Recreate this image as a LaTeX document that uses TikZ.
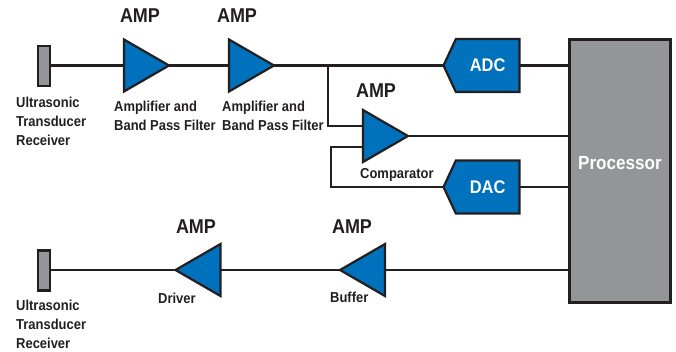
\documentclass[tikz,border=0pt]{standalone}
\usepackage{fontspec}
\setmainfont[FakeStretch=0.9]{Liberation Sans}
\usetikzlibrary{calc}
\usetikzlibrary{arrows.meta, shapes.geometric, shapes.symbols}
\definecolor{ampblue}{HTML}{0071BC}
\definecolor{bodygray}{HTML}{939598}
\definecolor{inkline}{HTML}{231F20}
\tikzset{
    wire/.style={draw=inkline, line width=2.2pt},
    amp/.style={isosceles triangle, isosceles triangle stretches, draw=inkline, fill=ampblue,
        line width=2.2pt, minimum width=52pt, minimum height=45pt, inner sep=0pt, outer sep=0pt},
    conv/.style={signal, signal to=west, signal pointer angle=130, draw=inkline, fill=ampblue,
        line width=2.2pt, minimum width=76pt, minimum height=53pt, inner sep=0pt, outer sep=0pt,
        text=white, font=\fontsize{18.3}{18.3}\selectfont\bfseries},
    probe/.style={draw=inkline, fill=bodygray, line width=2.2pt, minimum width=12pt,
        minimum height=40pt, inner sep=0pt, outer sep=0pt},
    amptag/.style={font=\fontsize{20}{20}\selectfont\bfseries, text=inkline, inner sep=0pt},
    tag/.style={font=\fontsize{14.4}{19}\selectfont\bfseries, text=inkline, align=left, inner sep=0pt},
    smalltag/.style={font=\fontsize{14.4}{14.4}\selectfont\bfseries, text=inkline, inner sep=0pt}
}

\begin{document}
\begin{tikzpicture}[x=1pt, y=-1pt]
    \useasboundingbox (0,0) rectangle (676,351);

    % -------------------------------------------------------
    % 1. Receive chain
    % -------------------------------------------------------
    \node[probe] (rxprobe) at (44,66) {};
    \node[amp, anchor=lower side] (amp1) at (124,65.5) {};
    \node[amp, anchor=lower side] (amp2) at (229,65.5) {};
    \node[amp, anchor=lower side] (cmp) at (363,136) {};

    % Converters and processor
    \node[conv, anchor=east] (adc) at (519.5,65.5) {ADC\hspace{9pt}};
    \node[conv, anchor=east] (dac) at (519.5,187) {DAC\hspace{12pt}};
    \node[draw=inkline, fill=bodygray, line width=2.6pt, minimum width=101pt, minimum height=263pt,
        inner sep=0pt, outer sep=0pt] (cpu) at (620,171) {};
    \node[text=white, font=\fontsize{19}{19}\selectfont\bfseries, inner sep=0pt] (cpulabel) at (620,163) {Processor};

    % -------------------------------------------------------
    % 2. Transmit chain
    % -------------------------------------------------------
    \node[probe] (txprobe) at (44,270.5) {};
    \node[amp, shape border rotate=180, anchor=lower side] (driver) at (220.5,270) {};
    \node[amp, shape border rotate=180, anchor=lower side] (buffer) at (385,270) {};

    % -------------------------------------------------------
    % 3. Connectors
    % -------------------------------------------------------
    \coordinate (tap) at (328,65.5);
    \coordinate (cmpin) at (cmp.lower side |- 0,126);
    \coordinate (cmpfb) at (cmp.lower side |- 0,147);
    \coordinate (fbturn) at (331,147);
    \draw[wire] (rxprobe.east |- amp1.lower side) -- (amp1.lower side);
    \draw[wire] (amp1.apex) -- (amp2.lower side);
    \draw[wire] (amp2.apex) -- (adc.west);
    \draw[wire] (tap) |- (cmpin);
    \draw[wire] (cmpfb) -- (fbturn) |- (dac.west);
    \draw[wire] (adc.east) -- (cpu.west |- adc.east);
    \draw[wire] (cmp.apex) -- (cpu.west |- cmp.apex);
    \draw[wire] (dac.east |- dac.west) -- (cpu.west |- dac.west);
    \draw[wire] (cpu.west |- buffer.lower side) -- (buffer.lower side);
    \draw[wire] (buffer.apex) -- (driver.lower side);
    \draw[wire] (driver.apex) -- (txprobe.east |- driver.apex);

    % -------------------------------------------------------
    % 4. Labels
    % -------------------------------------------------------
    \foreach \name/\xpos/\ypos in {a/140/16, b/237/16, c/376/91, d/196/227, e/352/227} {
        \node[amptag] (tag\name) at (\xpos,\ypos) {AMP};
    }
    \node[tag, anchor=west] (rxtag) at (16,121) {Ultrasonic\\Transducer\\Receiver};
    \node[tag, anchor=west] (txtag) at (16,324) {Ultrasonic\\Transducer\\Receiver};
    \node[tag, anchor=west] (amp1tag) at (114,116) {Amplifier and\\Band Pass Filter};
    \node[tag, anchor=west] (amp2tag) at (222,116) {Amplifier and\\Band Pass Filter};
    \node[smalltag, anchor=west] (cmptag) at (360,175) {Comparator};
    \node[smalltag, anchor=west] (drvtag) at (158,298.5) {Driver};
    \node[smalltag, anchor=west] (buftag) at (330,297) {Buffer};
\end{tikzpicture}
\end{document}
